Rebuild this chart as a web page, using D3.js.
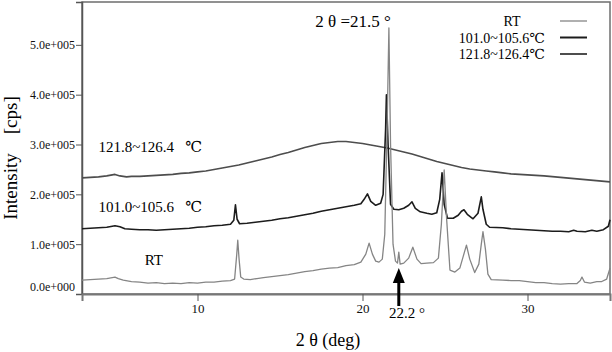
<!DOCTYPE html>
<html>
<head>
<meta charset="utf-8">
<script src="https://cdn.jsdelivr.net/npm/d3@7"></script>
<style>
  body { margin: 0; background: #fff; }
</style>
</head>
<body>
<div id="vis-container"></div>
<script>
let width_chart = 612;
let height_chart = 352;
let serif = "'Liberation Serif', 'Times New Roman', Times, 'DejaVu Serif', serif";

// 2theta (deg) and intensity (cps)
let rt_tth = [3.0, 3.5, 4.0, 4.5, 5.0, 5.2, 5.5, 6.0, 6.5, 7.0, 7.5, 8.0, 8.5, 9.0, 9.5, 10.0, 10.5, 11.0, 11.5, 12.0,
  12.25, 12.38, 12.44, 12.52, 12.62, 12.8, 13.2, 13.6, 14.0, 14.5, 15.0, 15.5, 16.0, 16.5, 17.0, 17.5, 18.0, 18.5, 19.0, 19.5,
  19.9, 20.2, 20.4, 20.6, 20.8, 21.0, 21.2, 21.35, 21.5, 21.6, 21.7, 21.85, 22.0, 22.12, 22.2, 22.28, 22.5, 22.8, 23.05, 23.3,
  23.55, 23.9, 24.3, 24.6, 24.78, 24.95, 25.1, 25.3, 25.6, 25.9, 26.1, 26.3, 26.5, 26.8, 27.05, 27.2, 27.3, 27.45, 27.6, 27.8,
  28.5, 29.0, 29.5, 30.0, 30.5, 31.0, 31.5, 32.0, 32.5, 33.0, 33.2, 33.3, 33.45, 33.8, 34.2, 34.5, 34.8, 35.0];
let rt_cps = [28000, 29000, 30000, 31000, 34000, 31000, 28000, 25000, 24000, 22000, 23000, 21000, 22000, 21000, 23000, 22000, 24000, 24000, 26000, 27000,
  30000, 80000, 108000, 70000, 34000, 30000, 29000, 31000, 33000, 35000, 37000, 39000, 42000, 45000, 47000, 50000, 52000, 53000, 57000, 59000,
  64000, 80000, 102000, 80000, 66000, 64000, 70000, 120000, 350000, 534000, 300000, 100000, 66000, 62000, 84000, 60000, 62000, 72000, 94000, 70000,
  61000, 62000, 63000, 72000, 140000, 249000, 150000, 48000, 44000, 52000, 75000, 98000, 70000, 43000, 60000, 100000, 125000, 90000, 40000, 29000,
  28000, 27000, 27000, 25000, 23000, 23000, 21000, 20000, 21000, 21000, 27000, 34000, 24000, 22000, 25000, 25000, 30000, 52000];

let mid_tth = [3.0, 3.5, 4.0, 4.5, 5.0, 5.3, 5.6, 6.0, 6.5, 7.0, 7.5, 8.0, 8.5, 9.0, 9.5, 10.0, 10.5, 11.0, 11.5, 12.0,
  12.2, 12.3, 12.4, 12.55, 13.0, 13.5, 14.0, 14.5, 15.0, 15.5, 16.0, 16.5, 17.0, 17.5, 18.0, 18.5, 19.0, 19.5, 19.9, 20.1,
  20.3, 20.5, 20.8, 21.1, 21.25, 21.4, 21.45, 21.55, 21.7, 21.9, 22.2, 22.5, 22.8, 23.0, 23.2, 23.5, 23.9, 24.2, 24.5, 24.68,
  24.82, 24.95, 25.15, 25.5, 25.8, 26.0, 26.15, 26.35, 26.7, 27.0, 27.2, 27.3, 27.5, 27.7, 28.5, 29.0, 29.5, 30.0, 30.5, 31.0,
  31.5, 32.0, 32.5, 32.8, 33.0, 33.5, 33.9, 34.2, 34.6, 34.9, 35.0];
let mid_cps = [131000, 132000, 133000, 134000, 137000, 135000, 131000, 130000, 129000, 129000, 128000, 129000, 130000, 131000, 132000, 134000, 135000, 137000, 138000, 140000,
  148000, 179000, 150000, 141000, 142000, 144000, 146000, 148000, 151000, 153000, 156000, 159000, 162000, 166000, 169000, 172000, 175000, 178000, 181000, 190000,
  201000, 186000, 178000, 182000, 200000, 330000, 400000, 300000, 180000, 170000, 169000, 172000, 178000, 185000, 172000, 165000, 162000, 160000, 163000, 190000,
  243000, 180000, 152000, 152000, 158000, 166000, 169000, 160000, 151000, 162000, 195000, 170000, 140000, 134000, 133000, 131000, 130000, 129000, 128000, 127000,
  126000, 126000, 125000, 128000, 126000, 125000, 128000, 126000, 129000, 136000, 149000];

let high_tth = [3.0, 3.5, 4.0, 4.5, 5.0, 5.3, 5.7, 6.0, 6.5, 7.0, 7.5, 8.0, 8.5, 9.0, 9.5, 10.0, 10.5, 11.0, 11.5, 12.0,
  12.5, 13.0, 13.5, 14.0, 14.5, 15.0, 15.5, 16.0, 16.5, 17.0, 17.5, 18.0, 18.5, 19.0, 19.5, 20.0, 20.5, 21.0, 21.5, 22.0,
  22.5, 23.0, 23.5, 24.0, 24.5, 25.0, 25.5, 26.0, 26.5, 27.0, 27.5, 28.0, 28.5, 29.0, 29.5, 30.0, 31.0, 32.0, 33.0, 34.0, 35.0];
let high_cps = [233000, 234000, 235000, 237000, 240000, 237000, 235000, 236000, 236000, 237000, 238000, 239000, 240000, 242000, 243000, 245000, 247000, 250000, 253000, 256000,
  259000, 263000, 267000, 271000, 275000, 280000, 284000, 289000, 294000, 298000, 302000, 304000, 306000, 306000, 304000, 302000, 299000, 296000, 293000, 289000,
  285000, 281000, 276000, 271000, 266000, 262000, 258000, 254000, 251000, 249000, 247000, 245000, 243000, 241000, 240000, 239000, 237000, 234000, 231000, 228000, 225000];

let series_names = ["RT", "101.0~105.6\u2103", "121.8~126.4\u2103"];
let series_colors = ["#858585", "#1c1c1c", "#4d4d4d"];
let y_ticks = [0, 100000, 200000, 300000, 400000, 500000];
let x_ticks = [10, 20, 30];

let svg = d3.select("#vis-container").append("svg")
  .attr("width", width_chart)
  .attr("height", height_chart)
  .style("display", "block");

let x = d3.scaleLinear().domain([3, 35]).range([82, 610]);
let y = d3.scaleLinear().domain([0, 586000]).range([294, 2]);

// frame
svg.append("rect")
  .attr("x", 82).attr("y", 2)
  .attr("width", 528).attr("height", 292)
  .attr("fill", "none")
  .attr("stroke", "#6e6e6e")
  .attr("stroke-width", 1.5);

function sci(d) {
  if (d === 0) return "0.0e+000";
  let e = Math.floor(Math.log10(d));
  return (d / Math.pow(10, e)).toFixed(1) + "e+" + String(e).padStart(3, "0");
}

let yAxis = svg.append("g")
  .attr("transform", "translate(82,0)")
  .call(d3.axisLeft(y).tickValues(y_ticks).tickFormat(sci).tickSize(6).tickPadding(1))
  .attr("font-family", serif);
yAxis.select(".domain").attr("stroke", "#555").attr("stroke-width", 1.5);
yAxis.selectAll(".tick line").attr("stroke", "#555");
yAxis.selectAll("text").style("font-size", "12px").style("font-family", serif).attr("fill", "#111");
yAxis.selectAll(".tick").filter(d => d === 0).select("text").attr("dy", "-0.3em");

let xAxis = svg.append("g")
  .attr("transform", "translate(0,294)")
  .call(d3.axisBottom(x).tickValues(x_ticks).tickSize(7).tickPadding(3))
  .attr("font-family", serif);
xAxis.select(".domain").attr("stroke", "#777").attr("stroke-width", 2);
xAxis.selectAll(".tick line").attr("stroke", "#555");
xAxis.selectAll("text").style("font-size", "13px").style("font-family", serif).attr("fill", "#111");

let line = d3.line()
  .x(d => x(d[0]))
  .y(d => y(d[1]));

let all_series = [
  d3.zip(rt_tth, rt_cps),
  d3.zip(mid_tth, mid_cps),
  d3.zip(high_tth, high_cps)
];

// draw 121.8 first, RT on top
[2, 1, 0].forEach(function(i) {
  svg.append("path")
    .datum(all_series[i])
    .attr("d", line)
    .attr("fill", "none")
    .attr("stroke", series_colors[i])
    .attr("stroke-width", i === 0 ? 1.3 : 1.6)
    .attr("stroke-linejoin", "round");
});

function label(xp, yp, size, txt, anchor) {
  return svg.append("text")
    .attr("x", xp).attr("y", yp)
    .attr("text-anchor", anchor || "start")
    .style("font-family", serif)
    .style("font-size", size + "px")
    .text(txt);
}

// labels on the curves
label(x(4.0), y(284000), 15, "121.8~126.4\u2002 \u2103");
label(x(4.0), y(164000), 15, "101.0~105.6\u2002 \u2103");
label(x(6.8), y(58000), 15, "RT");

// peak annotation
label(353, 27, 17, "2 \u03b8 =21.5 \u00b0", "middle");

// 22.2 arrow
svg.append("line")
  .attr("x1", x(22.2)).attr("x2", x(22.2))
  .attr("y1", 306).attr("y2", 280)
  .attr("stroke", "#000").attr("stroke-width", 3);
svg.append("path")
  .attr("d", `M${x(22.2)},268 L${x(22.2) - 6},283 L${x(22.2) + 6},283 Z`)
  .attr("fill", "#000");
label(389, 318, 15, "22.2 \u00b0");

// axis titles
svg.append("text")
  .attr("transform", "translate(17,158) rotate(-90)")
  .attr("text-anchor", "middle")
  .style("font-family", serif)
  .style("font-size", "19px")
  .text("Intensity\u2003[cps]");
label(328, 346, 18, "2 \u03b8 (deg)", "middle");

// legend
let legend = svg.selectAll("g.legend")
  .data(series_names)
  .enter().append("g")
  .attr("class", "legend")
  .attr("transform", (d, i) => `translate(0,${21 + i * 16.5})`);

legend.append("line")
  .attr("x1", 560).attr("x2", 587)
  .attr("stroke", (d, i) => series_colors[i])
  .attr("stroke-width", (d, i) => i === 0 ? 1.3 : 2);

legend.append("text")
  .attr("x", (d, i) => i === 0 ? 512 : 545)
  .attr("y", 5)
  .attr("text-anchor", (d, i) => i === 0 ? "middle" : "end")
  .style("font-family", serif)
  .style("font-size", "14px")
  .text(d => d);
</script>
</body>
</html>
